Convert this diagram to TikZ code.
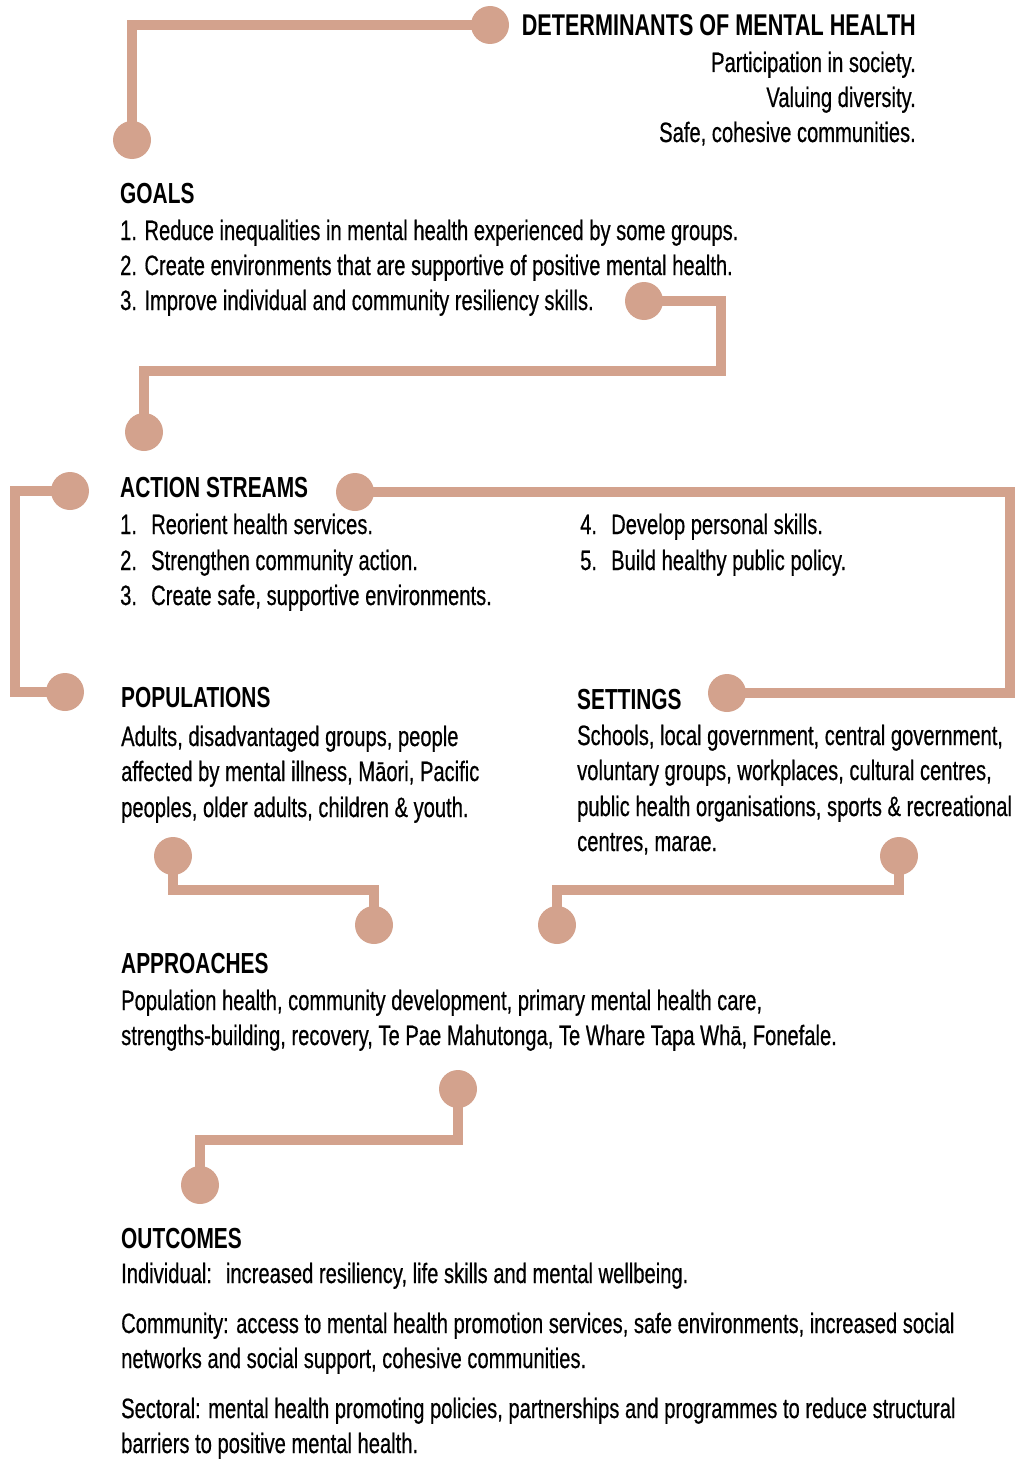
\documentclass[tikz,border=0pt]{standalone}
\usepackage{fontspec}
\setmainfont{Liberation Sans}[FakeStretch=0.72, UprightFeatures={FakeBold=0.5}]
\definecolor{tan}{RGB}{211,162,141}
\tikzset{
  dot/.style={circle, fill=tan, inner sep=0, minimum size=38pt},
  link/.style={draw=tan, line width=10pt},
  txt/.style={anchor=base west, inner sep=0, font=\fontsize{28}{34}\selectfont},
  hd/.style={anchor=base west, inner sep=0, font=\bfseries\fontsize{29}{34}\selectfont},
}
\begin{document}
\begin{tikzpicture}[x=1pt,y=-1pt]
\useasboundingbox (0,0) rectangle (1019,1461);
% dots
\node[dot] (d1a) at (490,25) {};
\node[dot] (d1b) at (132,140) {};
\node[dot] (d2a) at (644,301) {};
\node[dot] (d2b) at (144,432) {};
\node[dot] (d3a) at (70,491) {};
\node[dot] (d3b) at (65,692) {};
\node[dot] (d4a) at (355,492) {};
\node[dot] (d4b) at (727,693) {};
\node[dot] (d5a) at (173,856) {};
\node[dot] (d5b) at (374,925) {};
\node[dot] (d6a) at (899,856) {};
\node[dot] (d6b) at (557,925) {};
\node[dot] (d7a) at (458,1089) {};
\node[dot] (d7b) at (200,1185) {};
% bends
\coordinate (k2) at (721,371);
\coordinate (k3) at (15,600);
\coordinate (k4) at (1010,600);
\coordinate (k5) at (270,890);
\coordinate (k6) at (700,890);
\coordinate (k7) at (330,1140);
% connectors
\draw[link] (d1a.center) -| (d1b.center);
\draw[link] (d2a.center) -| (k2) -| (d2b.center);
\draw[link] (d3a.center) -| (k3) |- (d3b.center);
\draw[link] (d4a.center) -| (k4) |- (d4b.center);
\draw[link] (d5a.center) |- (k5) -| (d5b.center);
\draw[link] (d6a.center) |- (k6) -| (d6b.center);
\draw[link] (d7a.center) |- (k7) -| (d7b.center);
% determinants
\node[hd, anchor=base east, font=\bfseries\fontsize{30}{34}\selectfont] (det) at (916,36) {DETERMINANTS OF MENTAL HEALTH};
\node[txt, anchor=base east] (det1) at (916,72) {Participation in society.};
\node[txt, anchor=base east] (det2) at (916,107) {Valuing diversity.};
\node[txt, anchor=base east] (det3) at (916,142) {Safe, cohesive communities.};
% goals
\node[hd] (goals) at (120,203) {GOALS};
\node[txt] (g1) at (120,240) {1. Reduce inequalities in mental health experienced by some groups.};
\node[txt] (g2) at (120,275) {2. Create environments that are supportive of positive mental health.};
\node[txt] (g3) at (120,310) {3. Improve individual and community resiliency skills.};
% action streams
\node[hd] (act) at (120,497) {ACTION STREAMS};
\node[txt] (a1) at (120,534) {\makebox[31pt][l]{1.}Reorient health services.};
\node[txt] (a2) at (120,570) {\makebox[31pt][l]{2.}Strengthen community action.};
\node[txt] (a3) at (120,605) {\makebox[31pt][l]{3.}Create safe, supportive environments.};
\node[txt] (a4) at (580,534) {\makebox[31pt][l]{4.}Develop personal skills.};
\node[txt] (a5) at (580,570) {\makebox[31pt][l]{5.}Build healthy public policy.};
% populations
\node[hd] (pop) at (121,707) {POPULATIONS};
\node[txt] (p1) at (121,746) {Adults, disadvantaged groups, people};
\node[txt] (p2) at (121,781) {affected by mental illness, Māori, Pacific};
\node[txt] (p3) at (121,817) {peoples, older adults, children \& youth.};
% settings
\node[hd] (set) at (577,709) {SETTINGS};
\node[txt] (s1) at (577,745) {Schools, local government, central government,};
\node[txt] (s2) at (577,780) {voluntary groups, workplaces, cultural centres,};
\node[txt] (s3) at (577,816) {public health organisations, sports \& recreational};
\node[txt] (s4) at (577,851) {centres, marae.};
% approaches
\node[hd] (app) at (121,973) {APPROACHES};
\node[txt] (ap1) at (121,1010) {Population health, community development, primary mental health care,};
\node[txt] (ap2) at (121,1045) {strengths-building, recovery, Te Pae Mahutonga, Te Whare Tapa Whā, Fonefale.};
% outcomes
\node[hd] (out) at (121,1248) {OUTCOMES};
\node[txt] (o1) at (121,1283) {Individual:\hspace{14pt}increased resiliency, life skills and mental wellbeing.};
\node[txt] (o2) at (121,1333) {Community: access to mental health promotion services, safe environments, increased social};
\node[txt] (o3) at (121,1368) {networks and social support, cohesive communities.};
\node[txt] (o4) at (121,1418) {Sectoral: mental health promoting policies, partnerships and programmes to reduce structural};
\node[txt] (o5) at (121,1453) {barriers to positive mental health.};
\end{tikzpicture}
\end{document}
